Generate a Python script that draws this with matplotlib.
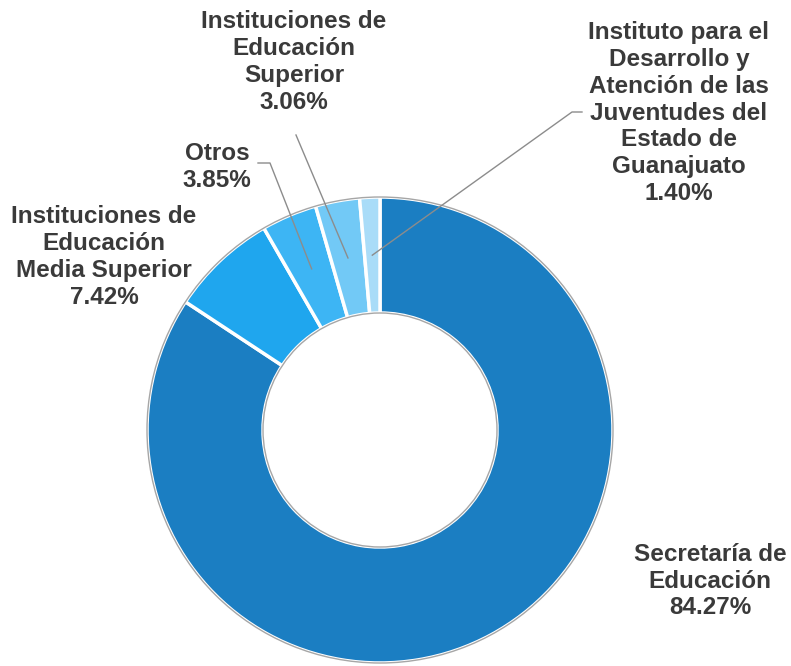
import matplotlib
matplotlib.use("Agg")
import matplotlib.pyplot as plt
from matplotlib.patches import Circle
import numpy as np

labels = ["Secretaría de\nEducación", "Instituciones de\nEducación\nMedia Superior", "Otros",
          "Instituciones de\nEducación\nSuperior",
          "Instituto para el\nDesarrollo y\nAtención de las\nJuventudes del\nEstado de\nGuanajuato"]
values = [84.27, 7.42, 3.85, 3.06, 1.40]
colors = ["#1B7EC2", "#1FA6EE", "#3DB5F4", "#72C9F6", "#A9DCF8"]

W, H = 791, 666
fig = plt.figure(figsize=(W / 100, H / 100), dpi=100)
ax = fig.add_axes([0, 0, 1, 1])

cx, cy = 380, H - 430
R, r_in = 233, 117

ax.pie(values, colors=colors, startangle=90, counterclock=False,
       center=(cx, cy), radius=R, frame=True,
       wedgeprops=dict(width=R - r_in, edgecolor="white", linewidth=2.5))
ax.set_xlim(0, W)
ax.set_ylim(0, H)
ax.set_aspect("equal")
ax.axis("off")
ax.add_patch(Circle((cx, cy), R, fill=False, edgecolor="#A6A6A6", lw=1))
ax.add_patch(Circle((cx, cy), r_in, fill=False, edgecolor="#A6A6A6", lw=1))

txtkw = dict(ha="center", va="center", fontsize=17.5, fontweight="bold",
             color="#3A3A3A", linespacing=1.22, family=["Liberation Sans", "DejaVu Sans"])

label_pos = [(710, 581), (104, 257), (217, 167), (294, 62), (679, 113)]
for lab, v, (lx, ly) in zip(labels, values, label_pos):
    ax.text(lx, H - ly, f"{lab}\n{v:.2f}%", **txtkw)

# leader lines to mid-ring of small wedges
mid_r = (R + r_in) / 2
cum = np.cumsum([0] + values[:-1])
def mid_point(i):
    ang = np.deg2rad(90 - (cum[i] + values[i] / 2) * 3.6)
    return cx + mid_r * np.cos(ang), cy + mid_r * np.sin(ang)

lk = dict(color="#8C8C8C", lw=1)
# Otros
px, py = mid_point(2)
ax.plot([258, 270, px], [H - 163, H - 163, py], **lk)
# Superior
px, py = mid_point(3)
ax.plot([296, px], [H - 135, py], **lk)
# Instituto
px, py = mid_point(4)
ax.plot([582, 572, px], [H - 112, H - 112, py], **lk)

fig.savefig("out.png", dpi=100, facecolor="white")
